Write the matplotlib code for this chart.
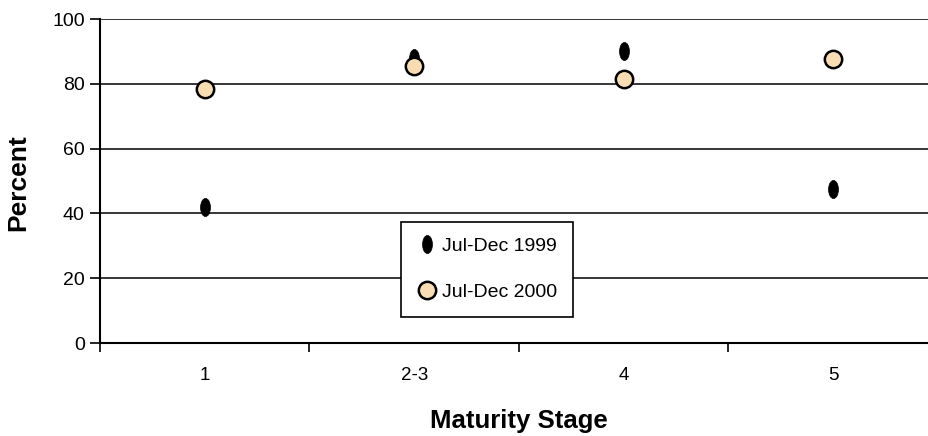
import matplotlib
matplotlib.use("Agg")
import matplotlib.pyplot as plt
from matplotlib.path import Path
from matplotlib.transforms import Affine2D
import numpy as np

plt.rcParams['font.family'] = ['Liberation Sans', 'DejaVu Sans']

categories = ["1", "2-3", "4", "5"]
series_names = ["Jul-Dec 1999", "Jul-Dec 2000"]
values_1999 = [42, 88, 90, 47.5]
values_2000 = [78.5, 85.5, 81.5, 87.5]
y_ticks = [0, 20, 40, 60, 80, 100]

W, H = 929, 436
fig = plt.figure(figsize=(W / 100, H / 100), dpi=100)
ax = fig.add_axes([100 / W, (H - 343) / H, 838 / W, 324 / H])

x = np.arange(len(categories))
ellipse = Path(Affine2D().scale(0.55, 1.0).transform(Path.unit_circle().vertices),
               Path.unit_circle().codes)

ax.plot(x, values_1999, linestyle='none', marker=ellipse, markersize=13,
        markerfacecolor='black', markeredgecolor='black', markeredgewidth=0.5,
        label=series_names[0], zorder=3)
ax.plot(x, values_2000, linestyle='none', marker='o', markersize=12.5,
        markerfacecolor='#F8DCB2', markeredgecolor='black', markeredgewidth=1.8,
        label=series_names[1], zorder=4)

ax.set_xlim(-0.5, len(categories) - 0.5)
ax.set_ylim(0, 100)
ax.set_yticks(y_ticks)
ax.set_yticklabels([str(v) for v in y_ticks], fontsize=14)
ax.set_xticks(x)
ax.set_xticklabels(categories, fontsize=13.5)
ax.tick_params(axis='x', which='major', length=0, pad=17)
ax.set_xticks(np.arange(len(categories) + 1) - 0.5, minor=True)
ax.tick_params(axis='x', which='minor', length=6.5, width=1.2, direction='out', color='black')
ax.tick_params(axis='y', length=7, width=1.2, direction='out', color='black', pad=4)

for v in y_ticks[1:]:
    ax.axhline(v, color='black', linewidth=1.1, zorder=1)

for s in ['top', 'right']:
    ax.spines[s].set_visible(False)
ax.spines['left'].set_linewidth(1.5)
ax.spines['bottom'].set_linewidth(1.5)

ax.set_ylabel("Percent", fontsize=19, fontweight='bold', ha='center', va='center')
ax.yaxis.set_label_coords(18 / W, 1 - 183 / H, transform=fig.transFigure)
ax.set_xlabel("Maturity Stage", fontsize=18.5, fontweight='bold', ha='center', va='baseline')
ax.xaxis.set_label_coords(519 / W, 1 - 428 / H, transform=fig.transFigure)

leg = ax.legend(loc='upper left', bbox_to_anchor=(401 / W, 1 - 222 / H),
                bbox_transform=fig.transFigure, borderaxespad=0, frameon=True,
                fancybox=False, shadow=False, fontsize=14, handletextpad=0.2,
                handlelength=1.1, labelspacing=1.45, borderpad=0.8)
leg.get_frame().set_edgecolor('black')
leg.get_frame().set_linewidth(1.2)
leg.get_frame().set_alpha(1)

fig.savefig("out.png", dpi=100)
